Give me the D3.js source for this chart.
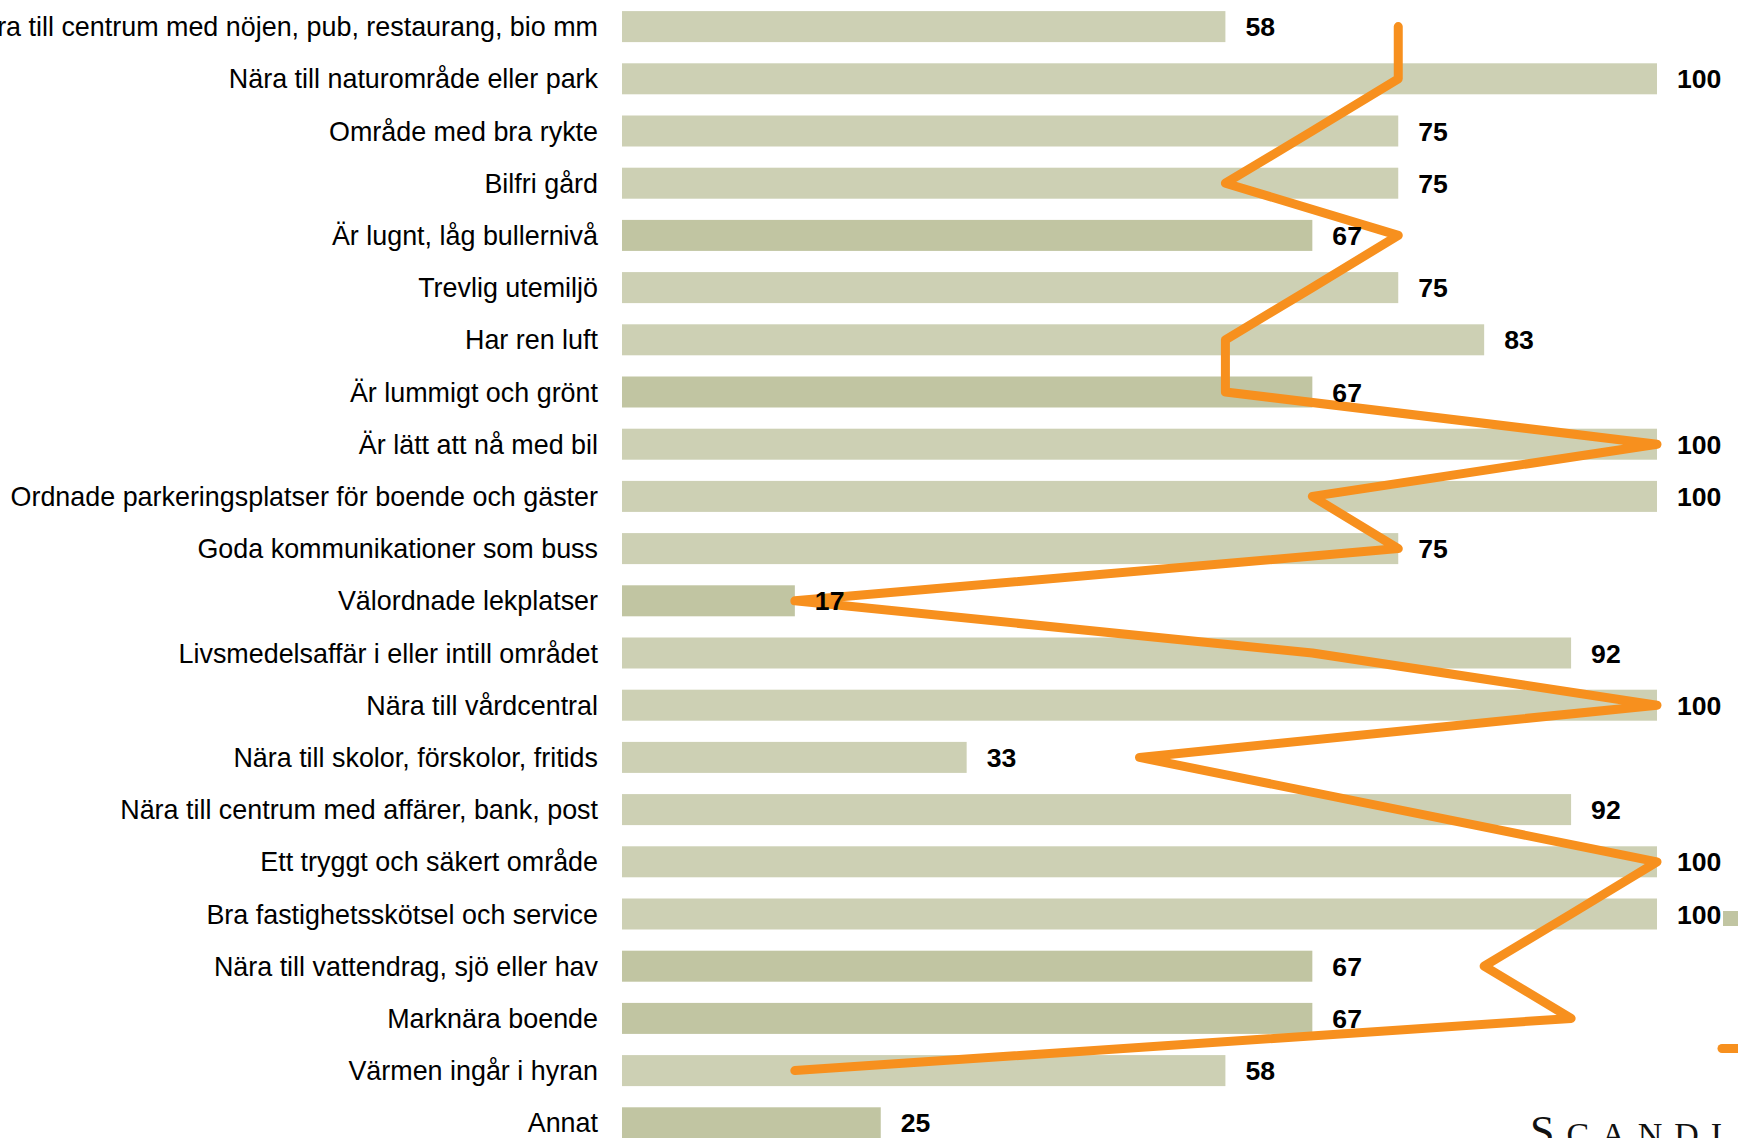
<!DOCTYPE html>
<html lang="sv">

<head>
    <meta charset="UTF-8">
    <title>Boendeönskemål</title>
    <script src="https://d3js.org/d3.v7.min.js"></script>
    <style>
        html, body {
            margin: 0;
            padding: 0;
            background: #fff;
            overflow: hidden;
        }

        svg {
            display: block;
            font-family: "Liberation Sans", Arial, sans-serif;
        }
    </style>
</head>

<body>
    <svg id="chart" width="1738" height="1138"></svg>

    <script>
        const categories = [
            "Nära till centrum med nöjen, pub, restaurang, bio mm",
            "Nära till naturområde eller park",
            "Område med bra rykte",
            "Bilfri gård",
            "Är lugnt, låg bullernivå",
            "Trevlig utemiljö",
            "Har ren luft",
            "Är lummigt och grönt",
            "Är lätt att nå med bil",
            "Ordnade parkeringsplatser för boende och gäster",
            "Goda kommunikationer som buss",
            "Välordnade lekplatser",
            "Livsmedelsaffär i eller intill området",
            "Nära till vårdcentral",
            "Nära till skolor, förskolor, fritids",
            "Nära till centrum med affärer, bank, post",
            "Ett tryggt och säkert område",
            "Bra fastighetsskötsel och service",
            "Nära till vattendrag, sjö eller hav",
            "Marknära boende",
            "Värmen ingår i hyran",
            "Annat"
        ];

        // bar values (percent, labels show them rounded)
        const barValues = [58.3, 100, 75, 75, 66.7, 75, 83.3, 66.7, 100, 100, 75, 16.7, 91.7, 100, 33.3, 91.7, 100, 100, 66.7, 66.7, 58.3, 25];

        // which bar series each row belongs to (two shades in the original)
        const barGroup = ["a", "a", "a", "a", "b", "a", "a", "b", "a", "a", "a", "b", "a", "a", "a", "a", "a", "a", "b", "b", "a", "b"];

        // comparison line (percent), no value for "Annat"
        const lineValues = [75, 75, 66.7, 58.3, 75, 66.7, 58.3, 58.3, 100, 66.7, 75, 16.7, 66.7, 100, 50, 75, 100, 91.7, 83.3, 91.7, 16.7, null];

        const legendKeys = ["b", "line"];

        const svg = d3.select("#chart");

        const x = d3.scaleLinear()
            .domain([0, 100])
            .range([622, 1657]);

        const y = d3.scaleBand()
            .domain(categories)
            .range([0.5, 1148.9])
            .paddingInner(0.406)
            .paddingOuter(0.203);

        const shade = d3.scaleOrdinal()
            .domain(["a", "b"])
            .range(["#cdd0b4", "#c1c5a2"]);

        const orange = "#f7901e";
        const fmt = d3.format(".0f");
        const rows = categories.map((c, i) => ({
            cat: c,
            value: barValues[i],
            group: barGroup[i],
            line: lineValues[i]
        }));

        // bars
        svg.append("g")
            .selectAll("rect")
            .data(rows)
            .enter()
            .append("rect")
            .attr("x", x(0))
            .attr("y", d => y(d.cat))
            .attr("width", d => x(d.value) - x(0))
            .attr("height", y.bandwidth())
            .attr("fill", d => shade(d.group));

        // category labels
        svg.append("g")
            .selectAll("text")
            .data(rows)
            .enter()
            .append("text")
            .attr("x", 598)
            .attr("y", d => y(d.cat) + y.bandwidth() / 2)
            .attr("dy", "0.36em")
            .attr("text-anchor", "end")
            .attr("font-size", 26.9)
            .attr("fill", "#000")
            .text(d => d.cat);

        // orange line
        const line = d3.line()
            .defined(d => d.line != null)
            .x(d => x(d.line))
            .y(d => y(d.cat) + y.bandwidth() / 2);

        svg.append("path")
            .datum(rows)
            .attr("d", line)
            .attr("fill", "none")
            .attr("stroke", orange)
            .attr("stroke-width", 9)
            .attr("stroke-linejoin", "round")
            .attr("stroke-linecap", "round");

        // value labels, drawn over the line
        svg.append("g")
            .selectAll("text")
            .data(rows)
            .enter()
            .append("text")
            .attr("x", d => x(d.value) + 20)
            .attr("y", d => y(d.cat) + y.bandwidth() / 2)
            .attr("dy", "0.36em")
            .attr("font-size", 26.6)
            .attr("font-weight", "bold")
            .attr("fill", "#000")
            .text(d => fmt(d.value));

        // legend, mostly outside the visible area
        const legend = svg.append("g");
        legend.append("rect")
            .attr("x", 1723)
            .attr("y", 911)
            .attr("width", 15)
            .attr("height", 15)
            .attr("fill", shade(legendKeys[0]));
        legend.append("line")
            .attr("x1", 1722)
            .attr("x2", 1770)
            .attr("y1", 1048.5)
            .attr("y2", 1048.5)
            .attr("stroke", orange)
            .attr("stroke-width", 9)
            .attr("stroke-linecap", "round");

        // logo, cut off at the bottom edge
        const logo = svg.append("text")
            .attr("x", 1530)
            .attr("y", 1146)
            .attr("font-family", "'Liberation Serif', 'DejaVu Serif', serif")
            .attr("fill", "#111")
            .attr("letter-spacing", 12);
        logo.append("tspan")
            .attr("font-size", 44)
            .text("S");
        logo.append("tspan")
            .attr("font-size", 34)
            .text("CANDI");
    </script>
</body>

</html>
